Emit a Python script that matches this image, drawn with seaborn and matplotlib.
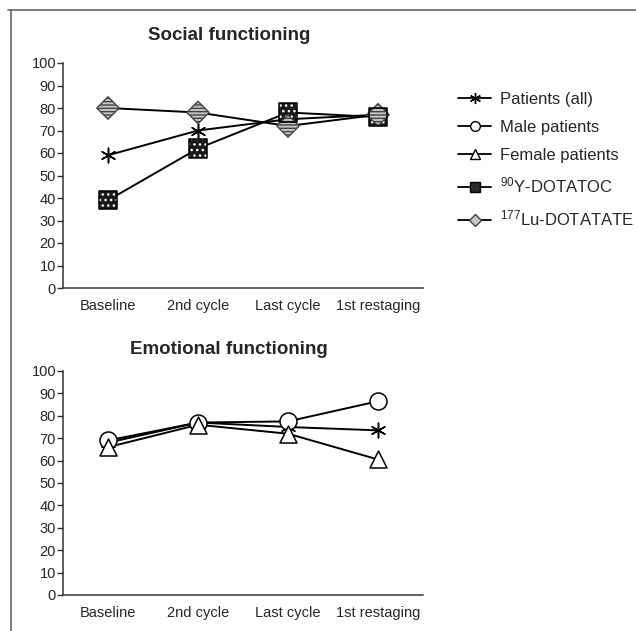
import numpy as np
import pandas as pd
import seaborn as sns
import matplotlib
matplotlib.use("Agg")
import matplotlib.pyplot as plt
from matplotlib.lines import Line2D

# Time points
timepoints = ["Baseline", "2nd cycle", "Last cycle", "1st restaging"]
y_ticks = [0, 10, 20, 30, 40, 50, 60, 70, 80, 90, 100]

# Social functioning scores
social_all = [59, 70, 75, 77]
social_y90 = [39, 62, 78, 76]
social_lu177 = [80, 78, 72, 77]

# Emotional functioning scores
emot_all = [68, 77, 75, 73.5]
emot_male = [69, 77, 77.5, 86.5]
emot_female = [66, 76, 72, 60.5]

series_labels = ["Patients (all)", "Male patients", "Female patients",
                 r"$^{90}$Y-DOTATOC", r"$^{177}$Lu-DOTATATE"]

sns.set_theme(style="white")
plt.rcParams["font.family"] = ["Liberation Sans", "DejaVu Sans"]
plt.rcParams["mathtext.fontset"] = "custom"
plt.rcParams["mathtext.rm"] = "Liberation Sans"
plt.rcParams["mathtext.it"] = "Liberation Sans"
plt.rcParams["mathtext.bf"] = "Liberation Sans:bold"

W, H = 636, 631
fig = plt.figure(figsize=(W / 100, H / 100), dpi=100)


def fig_rect(x0, y0, x1, y1):
    return [x0 / W, 1 - y1 / H, (x1 - x0) / W, (y1 - y0) / H]


ax1 = fig.add_axes(fig_rect(63, 63, 423, 288))
ax2 = fig.add_axes(fig_rect(63, 371, 423, 595))

# marker styles per series
styles = {
    "Patients (all)": dict(marker=(6, 2, 0), s=110, facecolor="black", edgecolor="black", lw=1.1),
    "Male patients": dict(marker="o", s=150, facecolor="white", edgecolor="black", lw=1.1),
    "Female patients": dict(marker="^", s=150, facecolor="white", edgecolor="black", lw=1.1),
    r"$^{90}$Y-DOTATOC": dict(marker="s", s=170),
    r"$^{177}$Lu-DOTATATE": dict(marker="D", s=130),
}


def draw_markers(ax, x, y, label):
    st = styles[label]
    if label.startswith(r"$^{90}"):
        ax.scatter(x, y, marker="s", s=st["s"], facecolor="#1a1a1a", edgecolor="white",
                   hatch="...", linewidths=0, zorder=4)
        ax.scatter(x, y, marker="s", s=st["s"], facecolor="none", edgecolor="black",
                   linewidths=1.1, zorder=5)
    elif label.startswith(r"$^{177}"):
        ax.scatter(x, y, marker="D", s=st["s"], facecolor="#c4c4c4", edgecolor="#444444",
                   hatch="-----", linewidths=1.0, zorder=4)
    else:
        ax.scatter(x, y, marker=st["marker"], s=st["s"], facecolor=st["facecolor"],
                   edgecolor=st["edgecolor"], linewidths=st["lw"], zorder=4)


def panel(ax, data, title, title_x, title_y):
    df = pd.concat([
        pd.DataFrame({"pos": np.arange(len(timepoints)), "score": vals, "series": lab})
        for lab, vals in data
    ])
    sns.lineplot(data=df, x="pos", y="score", hue="series",
                 palette=["black"] * len(data), linewidth=1.4,
                 estimator=None, legend=False, ax=ax, zorder=3)
    for lab, vals in data:
        draw_markers(ax, np.arange(len(timepoints)), vals, lab)

    ax.set_xlim(-0.5, len(timepoints) - 0.5)
    ax.set_ylim(0, 100)
    ax.set_yticks(y_ticks)
    ax.set_xticks(np.arange(len(timepoints) + 1) - 0.5)
    ax.set_xticklabels([])
    ax.set_xticks(np.arange(len(timepoints)), minor=True)
    ax.set_xticklabels(timepoints, minor=True)
    ax.tick_params(axis="x", which="major", direction="out", length=5, width=1, color="#333333")
    ax.tick_params(axis="x", which="minor", length=0, pad=8, labelsize=10.5)
    ax.tick_params(axis="y", direction="out", length=4, width=1, color="#333333",
                   labelsize=10.5, pad=1, left=True)
    ax.set_xlabel("")
    ax.set_ylabel("")
    for side in ["top", "right"]:
        ax.spines[side].set_visible(False)
    for side in ["left", "bottom"]:
        ax.spines[side].set_color("#333333")
        ax.spines[side].set_linewidth(1.1)
    ax.grid(False)
    fig.text(title_x / W, 1 - title_y / H, title, ha="center", va="center",
             fontsize=13.5, fontweight="bold")


panel(ax1, [("Patients (all)", social_all),
            (r"$^{90}$Y-DOTATOC", social_y90),
            (r"$^{177}$Lu-DOTATATE", social_lu177)],
      "Social functioning", 229, 36)
panel(ax2, [("Patients (all)", emot_all),
            ("Male patients", emot_male),
            ("Female patients", emot_female)],
      "Emotional functioning", 229, 349)

# legend
handles = [
    Line2D([], [], color="black", lw=1.3, marker=(6, 2, 0), markersize=8,
           markeredgewidth=1.0, markerfacecolor="black", markeredgecolor="black"),
    Line2D([], [], color="black", lw=1.3, marker="o", markersize=7,
           markerfacecolor="white", markeredgecolor="black"),
    Line2D([], [], color="black", lw=1.3, marker="^", markersize=7,
           markerfacecolor="white", markeredgecolor="black"),
    Line2D([], [], color="black", lw=1.3, marker="s", markersize=7,
           markerfacecolor="#2a2a2a", markeredgecolor="black"),
    Line2D([], [], color="black", lw=1.3, marker="D", markersize=6,
           markerfacecolor="#c4c4c4", markeredgecolor="#444444"),
]
fig.legend(handles, series_labels, loc="upper left",
           bbox_to_anchor=(458 / W, 1 - 92 / H), frameon=False,
           fontsize=12, handlelength=2.0, handletextpad=0.5,
           labelspacing=0.78, borderaxespad=0, borderpad=0)

# outer frame (top and left edges)
fig.add_artist(Line2D([8 / W, 1], [1 - 10 / H, 1 - 10 / H], transform=fig.transFigure,
                      color="#666666", lw=1.2))
fig.add_artist(Line2D([11 / W, 11 / W], [1 - 10 / H, 0], transform=fig.transFigure,
                      color="#666666", lw=1.2))

fig.savefig("out.png", dpi=100, facecolor="white")
